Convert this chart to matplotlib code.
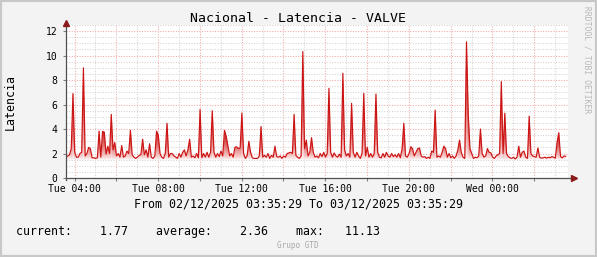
import datetime as dt
import numpy as np
import matplotlib
matplotlib.use("Agg")
import matplotlib.pyplot as plt
import matplotlib.dates as mdates
from matplotlib.colors import to_rgb
from matplotlib.patches import Rectangle

# time range of the graph (5 minute steps)
start = dt.datetime(2025, 12, 2, 3, 35, 29)
end = dt.datetime(2025, 12, 3, 3, 35, 29)
step_min = 5

# latency values, one row per hour
latency = [
    1.72, 1.8, 1.9, 2.4, 6.9, 2.1, 1.7, 1.7, 2.0, 2.1, 9.0, 1.8,
    2.0, 2.5, 2.4, 1.65, 1.65, 1.6, 1.65, 3.83, 1.7, 3.8, 3.75, 1.95,
    2.6, 2.0, 5.2, 2.3, 2.9, 1.8, 2.0, 1.7, 2.65, 1.7, 1.8, 2.2,
    2.0, 3.9, 1.9, 1.7, 1.6, 1.7, 1.85, 1.9, 3.17, 1.9, 2.3, 1.7,
    2.8, 1.7, 1.6, 1.8, 3.83, 3.5, 2.0, 1.7, 1.6, 2.0, 4.47, 1.7,
    2.0, 2.0, 1.8, 1.7, 1.6, 2.0, 1.7, 2.1, 2.3, 1.8, 2.3, 3.17,
    1.7, 1.8, 1.65, 2.0, 1.65, 5.6, 1.65, 2.0, 1.7, 2.1, 1.7, 2.1,
    5.5, 2.1, 1.7, 2.0, 1.75, 2.2, 1.8, 3.9, 3.4, 2.6, 1.8, 2.0,
    1.7, 2.5, 2.55, 2.4, 2.45, 5.3, 2.0, 1.6, 1.8, 3.0, 2.1, 1.65,
    1.6, 1.6, 1.6, 1.8, 4.2, 1.7, 1.85, 1.7, 2.0, 1.6, 1.85, 1.7,
    2.6, 1.75, 1.7, 1.8, 1.6, 1.8, 1.7, 2.0, 2.05, 2.1, 2.0, 5.2,
    1.85, 1.7, 1.6, 1.8, 10.33, 2.4, 3.1, 1.8, 2.1, 3.3, 2.1, 1.7,
    1.8, 1.65, 2.0, 1.75, 2.1, 1.7, 2.0, 7.33, 2.1, 1.7, 2.05, 1.8,
    1.7, 1.95, 1.7, 8.56, 2.3, 1.8, 2.0, 1.7, 6.1, 2.1, 1.7, 2.1,
    1.8, 1.6, 2.0, 6.92, 1.8, 2.5, 1.7, 2.0, 1.7, 2.0, 6.86, 2.1,
    1.7, 1.65, 2.0, 1.7, 2.1, 1.8, 1.7, 2.0, 1.75, 1.9, 1.7, 2.0,
    1.65, 2.4, 4.47, 1.8, 1.7, 2.0, 2.55, 2.4, 1.8, 2.1, 2.4, 2.45,
    1.8, 1.7, 1.75, 1.6, 1.7, 1.6, 2.2, 2.1, 5.55, 1.7, 1.8, 1.7,
    2.1, 2.6, 2.4, 1.7, 2.0, 1.65, 1.8, 1.6, 1.8, 2.27, 3.1, 2.1,
    1.7, 1.6, 11.13, 5.2, 2.4, 2.0, 1.6, 1.7, 1.65, 1.8, 4.0, 2.0,
    1.7, 1.8, 2.4, 2.1, 2.05, 1.7, 1.6, 1.8, 1.9, 2.0, 7.87, 2.0,
    5.3, 2.0, 1.75, 1.65, 1.6, 1.7, 1.55, 1.7, 2.6, 1.7, 2.1, 2.2,
    1.7, 1.6, 5.06, 2.0, 1.8, 1.75, 1.7, 2.45, 1.7, 1.62, 1.65, 1.7,
    1.62, 1.7, 1.65, 1.75, 1.7, 1.62, 2.9, 3.7, 1.75, 1.65, 1.8, 1.77,
]

stats_labels = ["current:", "average:", "max:"]
stats_values = [1.77, 2.36, 11.13]

title = "Nacional - Latencia - VALVE"
ylabel = "Latencia"
footer = "Grupo GTD"
watermark = "RRDTOOL / TOBI OETIKER"

times = [start + dt.timedelta(minutes=step_min * i) for i in range(len(latency))]
tnum = mdates.date2num(times)
ymax = 12.5

line_red = "#CC1414"
mono = "DejaVu Sans Mono"

fig = plt.figure(figsize=(5.97, 2.57), dpi=100, facecolor="#F3F3F3")
ax = fig.add_axes([66 / 597, 79 / 257, 501.5 / 597, 153 / 257])
ax.set_facecolor("white")

# gradient area: red at the line, fading to white towards the baseline,
# small bumps stay pale
nx, ny = 1500, 400
xs = np.linspace(tnum[0], tnum[-1], nx)
ys = np.linspace(0, ymax, ny)
v = np.interp(xs, tnum, latency)[None, :]
yy = ys[:, None]
base = 1.5
frac = np.clip((yy - base) / np.maximum(v - base, 1e-6), 0, 1) ** 0.8
frac = frac * np.clip((v - base) / 1.8, 0, 1)
inside = (yy <= v) & (yy >= base)
rgba = np.ones((ny, nx, 4))
red = np.array(to_rgb("#D02020"))
rgba[..., :3] = (1 - frac[..., None]) * np.array([1.0, 0.96, 0.96]) + frac[..., None] * red
rgba[..., 3] = np.where(inside, 1.0, 0.0)
ax.imshow(rgba, origin="lower", extent=[xs[0], xs[-1], 0, ymax],
          aspect="auto", interpolation="bilinear", zorder=2)

ax.plot(times, latency, color=line_red, lw=0.85, zorder=3)

ax.set_xlim(mdates.date2num(start), mdates.date2num(end))
ax.set_ylim(0, ymax)

# ticks and grid
ax.xaxis.set_major_locator(mdates.HourLocator(byhour=range(0, 24, 2)))
ax.xaxis.set_minor_locator(mdates.HourLocator())


def fmt_time(x, pos=None):
    d = mdates.num2date(x)
    return d.strftime("%a %H:%M") if d.hour % 4 == 0 else ""


ax.xaxis.set_major_formatter(plt.FuncFormatter(fmt_time))
ax.set_yticks(np.arange(0, 13, 2))
ax.set_yticks(np.arange(0, ymax + 0.01, 0.5), minor=True)

ax.grid(which="major", color="#F4A8A8", ls=(0, (1, 1.5)), lw=0.75, zorder=1)
ax.grid(which="minor", color="#D4D4D4", ls=(0, (1, 1.5)), lw=0.75, zorder=0)
ax.set_axisbelow(True)

ax.tick_params(axis="both", which="major", labelsize=7, length=2, color="#808080",
               labelcolor="black")
ax.tick_params(axis="both", which="minor", length=0)
ax.tick_params(axis="y", pad=4)
ax.tick_params(axis="x", pad=2)
for lbl in ax.get_xticklabels() + ax.get_yticklabels():
    lbl.set_family(mono)

for s in ax.spines.values():
    s.set_visible(False)

# axis lines with arrows
ax.plot([0, 1.012], [0, 0], transform=ax.transAxes, color="#505050", lw=0.9,
        clip_on=False, zorder=4)
ax.plot([0, 0], [-0.015, 1.005], transform=ax.transAxes, color="#505050", lw=0.9,
        clip_on=False, zorder=4)
ax.plot([1.012], [0], marker=">", ms=4.5, color="#8B1A1A", transform=ax.transAxes,
        clip_on=False, zorder=5)
ax.plot([0], [1.01], marker="^", ms=4.5, color="#8B1A1A", transform=ax.transAxes,
        clip_on=False, zorder=5)

# texts
fig.text(298 / 597, 1 - 19 / 257, title, ha="center", va="center",
         family=mono, fontsize=9.5)
fig.text(10 / 597, 1 - 102 / 257, ylabel, ha="center", va="center",
         rotation=90, family=mono, fontsize=8.4)
fig.text(298 / 597, 1 - 204 / 257,
         "From %s To %s" % (start.strftime("%d/%m/%Y %H:%M:%S"),
                            end.strftime("%d/%m/%Y %H:%M:%S")),
         ha="center", va="center", family=mono, fontsize=8.4)
stats = "".join("%s%8.2f    " % (lab, val) for lab, val in zip(stats_labels, stats_values))
stats = stats.replace("max:    ", "max:   ").rstrip()
fig.text(16 / 597, 1 - 232 / 257, stats, ha="left", va="center",
         family=mono, fontsize=8.4)
fig.text(298 / 597, 1 - 245 / 257, footer, ha="center", va="center",
         family=mono, fontsize=5.5, color="#A8A8A8")
fig.text(587 / 597, 1 - 60 / 257, watermark, ha="center", va="center",
         rotation=270, family=mono, fontsize=5.8, color="#B8B8B8")

fig.patches.append(Rectangle((0, 0), 1, 1, transform=fig.transFigure, fill=False,
                             ec="#C8C8C8", lw=3))

fig.savefig("out.png", dpi=100, facecolor=fig.get_facecolor())
